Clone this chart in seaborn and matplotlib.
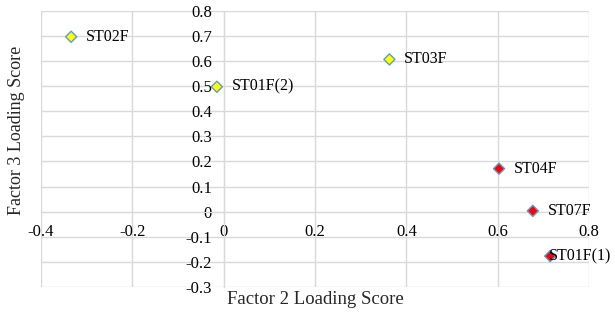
import matplotlib
matplotlib.use("Agg")
import matplotlib.pyplot as plt
import seaborn as sns
import pandas as pd

labels = ["ST02F", "ST01F(2)", "ST03F", "ST04F", "ST07F", "ST01F(1)"]
factor2 = [-0.334, -0.015, 0.363, 0.603, 0.677, 0.715]
factor3 = [0.696, 0.497, 0.606, 0.171, 0.003, -0.177]
groups = ["A", "A", "A", "B", "B", "B"]
xticks = [-0.4, -0.2, 0, 0.2, 0.4, 0.6, 0.8]
yticks = [-0.3, -0.2, -0.1, 0, 0.1, 0.2, 0.3, 0.4, 0.5, 0.6, 0.7, 0.8]

df = pd.DataFrame({"label": labels, "x": factor2, "y": factor3, "g": groups})

sns.set_style("white")
plt.rcParams["font.family"] = ["Liberation Serif", "DejaVu Serif"]

fig = plt.figure(figsize=(6.15, 3.13), dpi=100)
ax = fig.add_axes([0.0667, 0.083, 0.891, 0.883])

sns.scatterplot(data=df, x="x", y="y", hue="g",
                palette={"A": "#FFFF00", "B": "#FF0000"},
                marker="D", s=32, edgecolor="#5B9BD5", linewidth=1.0,
                legend=False, ax=ax, zorder=5)

# labels near the right edge are pulled back onto the marker to stay inside
for lab, x, y in zip(labels, factor2, factor3):
    dx = 10.5 if x < 0.7 else -1
    ax.annotate(lab, (x, y), xytext=(dx, 0), textcoords="offset points",
                va="center", ha="left", fontsize=11.5, color="black", zorder=6)

ax.set_xlim(-0.4, 0.8)
ax.set_ylim(-0.3, 0.8)
ax.set_xticks(xticks)
ax.set_yticks(yticks)
ax.set_xticklabels([f"{v:g}" for v in xticks])
ax.set_yticklabels([f"{v:g}" for v in yticks])
ax.grid(True, color="#d9d9d9", linewidth=1.0)
ax.set_axisbelow(True)

ax.spines["left"].set_position(("data", 0))
ax.spines["bottom"].set_position(("data", 0))
for sp in ["left", "bottom"]:
    ax.spines[sp].set_color("#d9d9d9")
for sp in ["top", "right"]:
    ax.spines[sp].set_visible(False)

ax.tick_params(axis="both", length=0, labelsize=12, colors="black")
ax.tick_params(axis="x", pad=9)
ax.tick_params(axis="y", pad=8.5)
ax.set_xlabel("")
ax.set_ylabel("")

fig.text(0.512, 0.042, "Factor 2 Loading Score", ha="center", va="center", fontsize=13.5)
fig.text(0.027, 0.585, "Factor 3 Loading Score", ha="center", va="center",
         rotation=90, fontsize=13)

fig.savefig("out.png", dpi=100)
